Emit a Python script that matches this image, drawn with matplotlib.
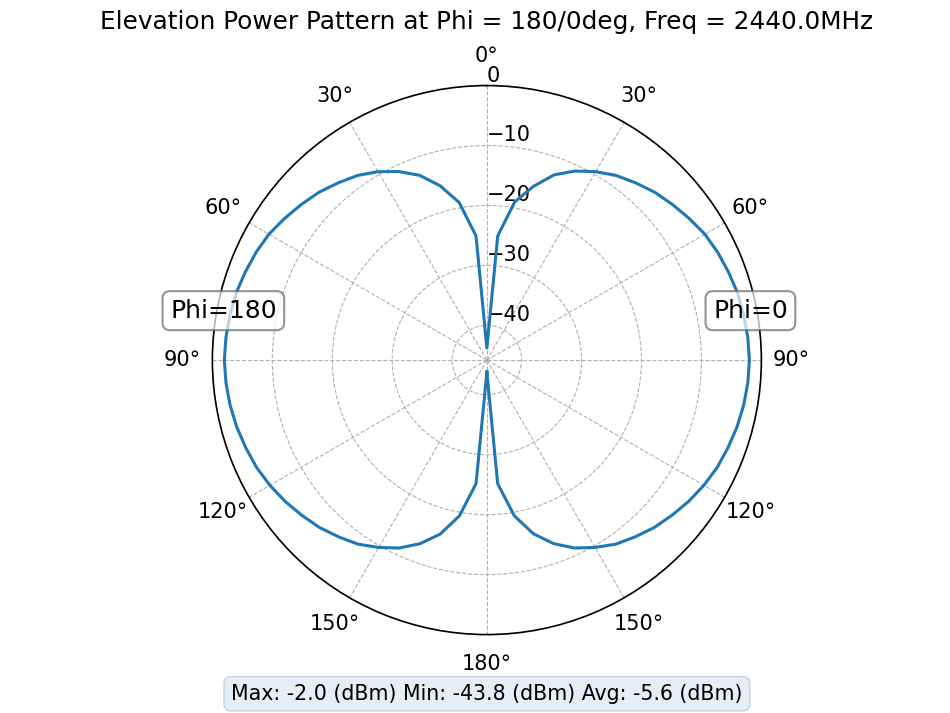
import numpy as np
import matplotlib
matplotlib.use("Agg")
import matplotlib.pyplot as plt
from matplotlib.transforms import blended_transform_factory

# elevation angles (deg) and measured power (dBm) for the two cuts
theta_deg = np.arange(0, 181, 5)
phi0_db = [-43.8, -25.0, -19.0, -15.8, -12.9, -11.0, -9.5, -8.2, -7.2, -6.2,
           -5.4, -4.6, -3.8, -3.3, -2.9, -2.5, -2.3, -2.1, -2.0,
           -2.1, -2.3, -2.6, -3.0, -3.4, -4.0, -4.7, -5.5, -6.3, -7.3,
           -8.3, -9.7, -11.2, -13.2, -15.8, -19.4, -25.1, -43.8]
phi180_db = [-43.8, -25.0, -19.1, -15.7, -13.0, -11.1, -9.5, -8.2, -7.2, -6.2,
             -5.4, -4.6, -3.8, -3.3, -2.9, -2.5, -2.3, -2.1, -2.0,
             -2.1, -2.3, -2.6, -3.0, -3.4, -4.0, -4.7, -5.5, -6.3, -7.3,
             -8.3, -9.7, -11.2, -13.2, -15.75, -19.4, -25.1, -43.8]

theta_labels = ['0°', '30°', '60°', '90°', '120°', '150°', '180°',
                '150°', '120°', '90°', '60°', '30°']
r_ticks = [0, -10, -20, -30, -40]

max_db, min_db, avg_db = -2.0, -43.8, -5.6

# phi=180 side drawn at negative angles (left), phi=0 on the right
ang = np.concatenate([-theta_deg[::-1], theta_deg[1:]])
vals = np.concatenate([np.array(phi180_db)[::-1], np.array(phi0_db)[1:]])

fig = plt.figure(figsize=(9.5, 7.13), dpi=100)
ax = fig.add_subplot(111, projection='polar')
ax.set_theta_zero_location('N')
ax.set_theta_direction(-1)

ax.plot(np.deg2rad(ang), vals, color='#1f77b4', lw=2.2)

ax.set_rlim(min_db - 2, max_db + 2)
ax.set_rticks(r_ticks)
ax.set_rlabel_position(0)
ax.set_thetagrids(np.arange(0, 360, 30), theta_labels)
ax.tick_params(labelsize=15)
ax.tick_params(axis='x', pad=11)
ax.grid(True, ls='--', color='#b0b0b0', lw=0.8)
ax.spines['polar'].set_linewidth(1.2)

box = dict(boxstyle='round,pad=0.3', facecolor='white', edgecolor='#666666',
           alpha=0.7, lw=1.5)
ax.text(0.02, 0.59, 'Phi=180', transform=ax.transAxes, fontsize=18,
        ha='center', va='center', bbox=box)
ax.text(0.98, 0.59, 'Phi=0', transform=ax.transAxes, fontsize=18,
        ha='center', va='center', bbox=box)

# texts centred over the axes, placed vertically in figure units
tr = blended_transform_factory(ax.transAxes, fig.transFigure)
ax.text(0.5, 1 - 22 / 713, 'Elevation Power Pattern at Phi = 180/0deg, Freq = 2440.0MHz',
        transform=tr, fontsize=17.8, ha='center', va='center')
ax.text(0.5, 0.027,
        f'Max: {max_db:.1f} (dBm) Min: {min_db:.1f} (dBm) Avg: {avg_db:.1f} (dBm)',
        transform=tr, ha='center', va='center', fontsize=14.8,
        bbox=dict(boxstyle='round,pad=0.35', facecolor='lightsteelblue',
                  edgecolor='steelblue', alpha=0.3))

plt.savefig('out.png', dpi=100)
